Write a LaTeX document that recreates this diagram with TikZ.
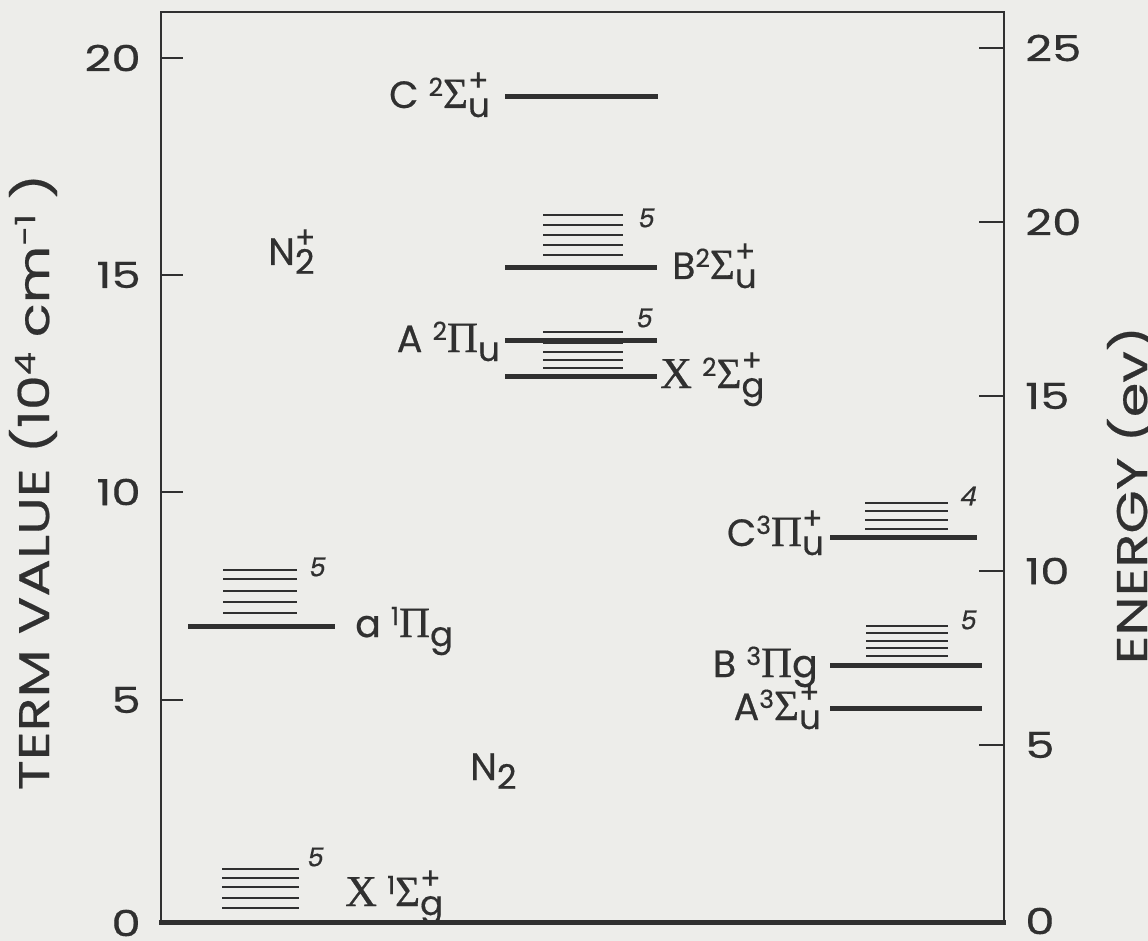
\RequirePackage{fix-cm}
\documentclass[tikz,border=0pt]{standalone}
\usepackage{fontspec}
\setmainfont{Poppins}[FakeBold=0.5]
\newfontfamily\widefont{Poppins}[FakeStretch=1.3, FakeBold=0.5]
\newfontfamily\slfont{Poppins}[FakeSlant=0.22, FakeBold=0.5]
\newfontfamily\gkfont{Liberation Serif}[FakeBold=0.6]
\definecolor{paper}{RGB}{237,237,234}
\definecolor{ink}{RGB}{48,48,48}
\newcommand\GS{{\gkfont\fontsize{43}{43}\selectfont Σ}}
\newcommand\GP{{\gkfont\fontsize{43}{43}\selectfont Π}}
\newcommand\XX{{\gkfont\fontsize{44}{44}\selectfont X}}
\newcommand\hi[1]{\raisebox{12pt}{\fontsize{25}{25}\selectfont #1}}
\newcommand\lo[1]{\raisebox{-9pt}{\fontsize{34}{34}\selectfont #1}}
\newcommand\hilo[2]{\rlap{\raisebox{17pt}{\fontsize{30}{30}\selectfont #1}}\raisebox{-9pt}{\fontsize{34}{34}\selectfont #2}}
\newcommand\axhi[1]{\raisebox{14pt}{\fontsize{28}{28}\selectfont #1}}
\tikzset{
  frameline/.style={ink, line width=2pt},
  level/.style={ink, line width=5pt},
  vib/.style={ink, line width=2.2pt},
  tick/.style={ink, line width=2pt},
  num/.style={ink, inner sep=0pt, font=\widefont\fontsize{36}{40}\selectfont},
  lab/.style={ink, inner sep=0pt, font=\fontsize{38}{42}\selectfont},
  vnum/.style={ink, inner sep=0pt, font=\slfont\fontsize{26}{30}\selectfont},
  axtitle/.style={ink, inner sep=0pt, rotate=90, font=\widefont\fontsize{43}{46}\selectfont}
}
\begin{document}
\begin{tikzpicture}[x=1pt,y=-1pt]
\fill[paper] (0,0) rectangle (1148,941);
\useasboundingbox (0,0) rectangle (1148,941);
% frame
\draw[frameline] (161,922) -- (161,12) -- (1004,12) -- (1004,922);
\draw[level] (159,922) -- (1006,922);
% left ticks and labels (10^4 cm^-1)
\foreach \yy/\t [count=\i] in {58/20,275/15,492/10,700/5}{
  \draw[tick] (161,\yy) -- (183,\yy);
  \node[num, anchor=east] (l\i) at (141,\yy) {\t};
}
\node[num, anchor=east] (l0) at (141,923) {0};
% right ticks and labels (eV)
\foreach \yy/\t [count=\i] in {48/25,222/20,396/15,571/10,745/5}{
  \draw[tick] (979,\yy) -- (1004,\yy);
  \node[num, anchor=west] (r\i) at (1025,\yy) {\t};
}
\node[num, anchor=west] (r0) at (1025,921) {0};
% axis titles
\node[axtitle] (ytitle) at (33,482) {TERM VALUE (10\axhi{4} cm\axhi{-1} )};
\node[axtitle] (etitle) at (1131,495) {ENERGY (ev)};
% molecule labels
\node[lab, anchor=base west] (nplus) at (268,265) {N\hilo{+}{2}};
\node[lab, anchor=base west] (nzero) at (470,780) {N\lo{2}};
% N2+ levels
\draw[level] (505,97) -- (658,97);
\node[lab, anchor=base east] (Cion) at (490,108) {C \hi{2}\GS\hilo{+}{u}};
\foreach \yy in {215,225,235,245,255} \draw[vib] (543,\yy) -- (623,\yy);
\node[vnum] (vB) at (645,218) {5};
\draw[level] (505,268) -- (657,268);
\node[lab, anchor=base west] (Bion) at (672,279) {B\hi{2}\GS\hilo{+}{u}};
\foreach \yy in {332,343,352,360,368} \draw[vib] (543,\yy) -- (623,\yy);
\node[vnum] (vX) at (643,318) {5};
\draw[level] (505,340) -- (657,340);
\node[lab, anchor=base east] (Aion) at (500,352) {A \hi{2}\GP\lo{u}};
\draw[level] (505,376) -- (657,376);
\node[lab, anchor=base west] (Xion) at (660,388) {\XX\ \hi{2}\GS\hilo{+}{g}};
% N2 singlet levels
\foreach \yy in {570,579,591,602,613} \draw[vib] (223,\yy) -- (297,\yy);
\node[vnum] (va) at (316,567) {5};
\draw[level] (188,626) -- (335,626);
\node[lab, anchor=base west] (aPi) at (355,637) {a \hi{1}\GP\lo{g}};
\foreach \yy in {869,878,887,898,908} \draw[vib] (222,\yy) -- (299,\yy);
\node[vnum] (vX0) at (314,857) {5};
\node[lab, anchor=base west] (X0) at (345,906) {\XX\ \hi{1}\GS\hilo{+}{g}};
% N2 triplet levels
\foreach \yy in {503,511,520,529} \draw[vib] (865,\yy) -- (948,\yy);
\node[vnum] (vC) at (967,496) {4};
\draw[level] (830,537) -- (977,537);
\node[lab, anchor=base east] (Ctrip) at (824,546) {C\hi{3}\GP\hilo{+}{u}};
\foreach \yy in {626,633,641,648,656} \draw[vib] (866,\yy) -- (948,\yy);
\node[vnum] (vBt) at (967,620) {5};
\draw[level] (830,665) -- (982,665);
\node[lab, anchor=base east] (Btrip) at (818,677) {B \hi{3}\GP g};
\draw[level] (830,708) -- (982,708);
\node[lab, anchor=base east] (Atrip) at (821,720) {A\hi{3}\GS\hilo{+}{u}};
\end{tikzpicture}
\end{document}
